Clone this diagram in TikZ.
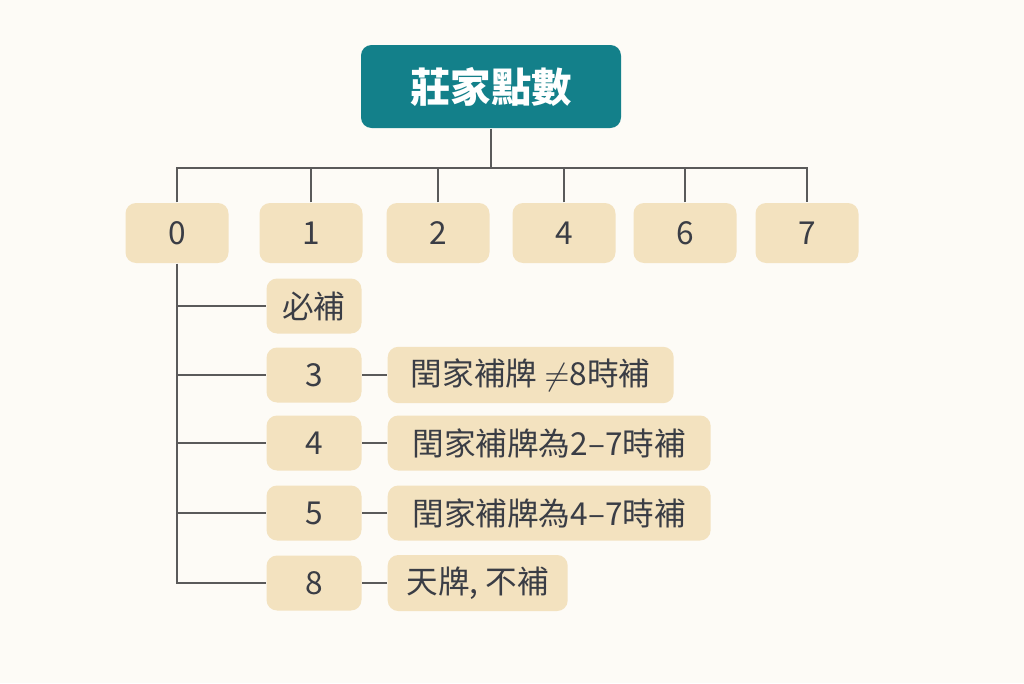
\documentclass[tikz,border=0pt]{standalone}
\usepackage{fontspec}
\setmainfont{Noto Sans CJK TC}
\usetikzlibrary{positioning}
\definecolor{bg}{HTML}{FDFBF6}
\definecolor{teal}{HTML}{13808A}
\definecolor{sand}{HTML}{F3E2BF}
\definecolor{ink}{HTML}{3A3D45}
\definecolor{wire}{HTML}{5A5A5A}
\tikzset{
  pt/.style={fill=sand,rounded corners=3pt,text=ink,font=\fontsize{9}{10}\selectfont},
  numbox/.style={pt,minimum width=1.03cm,minimum height=0.6cm},
  subbox/.style={pt,minimum width=0.95cm,minimum height=0.55cm},
  rulebox/.style={pt,minimum height=0.55cm,anchor=west,inner xsep=4pt},
  wire/.style={draw=wire,line width=0.6pt}
}
\begin{document}
\begin{tikzpicture}
		\fill[bg] (0,0) rectangle (10.24,6.83);
		\useasboundingbox (0,0) rectangle (10.24,6.83);
		\node[fill=teal,rounded corners=3pt,text=white,font=\fontsize{11.5}{13}\selectfont\bfseries,minimum width=2.6cm,minimum height=0.83cm] (top) at (4.91,5.965) {莊家點數};
		\node[numbox] (n0) at (1.77,4.5) {0};
		\node[numbox] (n1) at (3.11,4.5) {1};
		\node[numbox] (n2) at (4.38,4.5) {2};
		\node[numbox] (n4) at (5.64,4.5) {4};
		\node[numbox] (n6) at (6.85,4.5) {6};
		\node[numbox] (n7) at (8.07,4.5) {7};
		\coordinate (bus) at (4.91,5.15);
		\draw[wire] (top) -- (bus);
		\draw[wire] (n0.north) |- (bus) -| (n7.north);
		\foreach \n in {n1,n2,n4,n6}
			\draw[wire] (\n.north) -- (\n.north |- bus);
		% player rows
		\node[subbox] (s0) at (3.14,3.77) {必補};
		\node[subbox] (s3) at (3.14,3.08) {3};
		\node[subbox] (s4) at (3.14,2.40) {4};
		\node[subbox] (s5) at (3.14,1.70) {5};
		\node[subbox] (s8) at (3.14,1.00) {8};
		\node[rulebox,minimum width=2.86cm] (r3) at (3.87,3.08) {閏家補牌 $\neq$8時補};
		\node[rulebox,minimum width=3.23cm] (r4) at (3.87,2.40) {閏家補牌為2–7時補};
		\node[rulebox,minimum width=3.23cm] (r5) at (3.87,1.70) {閏家補牌為4–7時補};
		\node[rulebox,minimum width=1.80cm] (r8) at (3.87,1.00) {天牌, 不補};
		\coordinate (end) at (1.77,1.00);
		\draw[wire] (n0.south) -- (end) -- (s8.west);
		\foreach \s in {s0,s3,s4,s5}
			\draw[wire] (\s.west -| end) -- (\s.west);
		\foreach \k in {3,4,5,8}
			\draw[wire] (s\k.east) -- (r\k.west);
\end{tikzpicture}
\end{document}
